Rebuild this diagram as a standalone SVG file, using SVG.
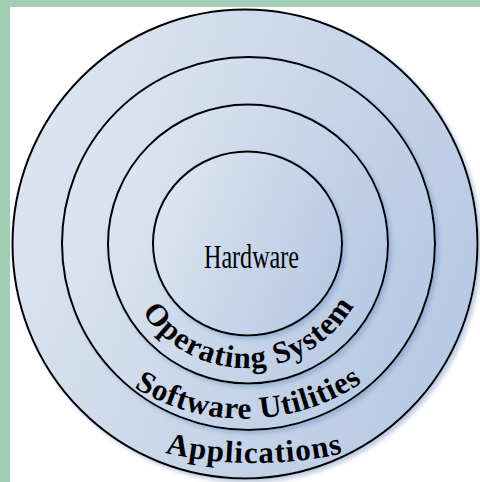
<svg xmlns="http://www.w3.org/2000/svg" width="480" height="482" viewBox="0 0 480 482">
<defs>
<linearGradient id="fill" x1="0" y1="0.3" x2="1" y2="0.7">
<stop offset="0" stop-color="#dde5f1"/>
<stop offset="1" stop-color="#b6c9e3"/>
</linearGradient>
<filter id="shadow" x="-10%" y="-10%" width="125%" height="125%">
<feGaussianBlur in="SourceAlpha" stdDeviation="2"/>
<feOffset dx="3" dy="3" result="b"/>
<feFlood flood-color="#6f8fbf" flood-opacity="0.45"/>
<feComposite in2="b" operator="in" result="s"/>
<feMerge><feMergeNode in="s"/><feMergeNode in="SourceGraphic"/></feMerge>
</filter>
<path id="p-os" d="M142.2,311.9 A124,124 0 0,0 353.8,305.2"/>
<path id="p-su" d="M134,387.5 A210,210 0 0,0 362,382.5"/>
<path id="p-ap" d="M165,452.8 A400,400 0 0,0 344,453"/>
</defs>
<style>
.ring{fill:url(#fill);stroke:#000;stroke-width:2;filter:url(#shadow)}
.arc{font-family:"Liberation Serif","Times New Roman",serif;font-weight:bold;font-size:31px;fill:#000}
.hw{font-family:"Liberation Serif","Times New Roman",serif;font-size:34px;fill:#000}
</style>
<g id="background">
<rect x="0" y="0" width="480" height="482" fill="#a2cdb5"/>
<rect x="10" y="7" width="470" height="475" fill="#ffffff"/>
</g>
<g id="applications">
<ellipse class="ring" cx="245" cy="244" rx="232.5" ry="234.5"/>
<text class="arc"><textPath href="#p-ap" textLength="179" lengthAdjust="spacing">Applications</textPath></text>
</g>
<g id="software-utilities">
<ellipse class="ring" cx="248.5" cy="243.5" rx="186.5" ry="186.5"/>
<text class="arc"><textPath href="#p-su" textLength="241" lengthAdjust="spacing">Software Utilities</textPath></text>
</g>
<g id="operating-system">
<ellipse class="ring" cx="248" cy="244" rx="140" ry="139.5"/>
<text class="arc"><textPath href="#p-os" textLength="253" lengthAdjust="spacing">Operating System</textPath></text>
</g>
<g id="hardware">
<ellipse class="ring" cx="247.5" cy="243.5" rx="94.5" ry="92"/>
<text class="hw" x="204" y="268" textLength="95" lengthAdjust="spacingAndGlyphs">Hardware</text>
</g>
</svg>
